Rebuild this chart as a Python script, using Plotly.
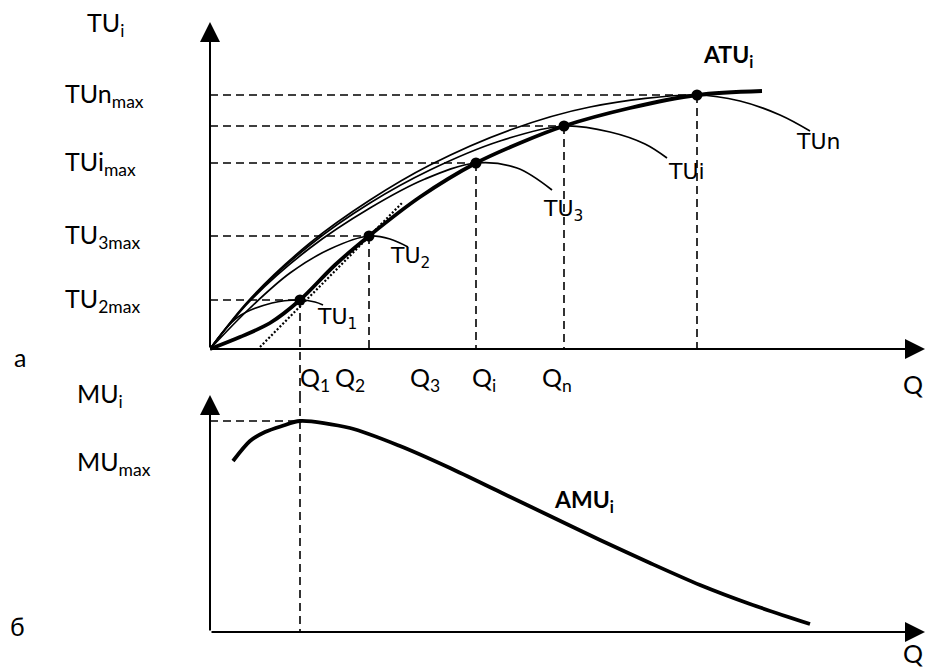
import plotly.graph_objects as go

W, H = 925, 670

# Shared scale for both panels: quantity Q and utility in the same units
Q_RANGE = [0, 71.5]
TU_RANGE = [-4.6, 32.7]   # upper panel (total utility)
MU_RANGE = [0, 23.7]      # lower panel (marginal utility)

# Maxima of the individual total-utility curves; they lie on ATU_i
q_peak = [9.0, 15.9, 26.6, 35.4, 48.7]
tu_peak = [4.9, 11.3, 18.6, 22.3, 25.4]

# Aggregate total utility ATU_i
atu_q = [0, 3.0, 6.0, 9.0, 12.5, 15.9, 21.0, 26.6, 31.0, 35.4, 42.0, 48.7, 55.2]
atu_tu = [0, 1.2, 2.6, 4.9, 8.4, 11.3, 15.2, 18.6, 20.6, 22.3, 24.1, 25.4, 25.8]

# Individual total-utility curves TU_1 ... TU_n
tu1_q = [0, 2.8, 6.2, 9.0, 10.5, 11.3]
tu1_v = [0, 3.2, 4.6, 4.9, 4.7, 4.4]
tu2_q = [0, 4.0, 8.0, 12.0, 15.9, 18.0, 19.8]
tu2_v = [0, 4.1, 7.6, 10.0, 11.3, 11.0, 10.2]
tu3_q = [0, 4.0, 10.0, 16.0, 21.5, 26.6, 30.7, 34.2]
tu3_v = [0, 4.8, 10.1, 14.1, 17.0, 18.6, 18.1, 15.9]
tui_q = [0, 4.0, 10.0, 16.0, 22.0, 29.0, 35.4, 40.0, 43.5, 45.7]
tui_v = [0, 4.9, 10.4, 14.6, 17.9, 20.8, 22.3, 21.7, 20.5, 19.1]
tun_q = [0, 4.0, 10.0, 16.0, 22.0, 30.0, 38.0, 48.7, 53.0, 57.0, 60.0]
tun_v = [0, 5.0, 10.6, 14.9, 18.4, 21.9, 24.2, 25.4, 24.8, 23.4, 21.8]

# Tangent through the first two maxima
tangent_q = [5.0, 19.3]
tangent_v = [0.2, 14.7]

# Aggregate marginal utility AMU_i
amu_q = [2.3, 4.0, 5.5, 7.2, 9.0, 14.0, 19.0, 24.0, 29.0, 34.0, 39.0, 44.0, 49.0, 54.0, 60.0]
amu_v = [17.1, 19.1, 20.0, 20.6, 21.1, 20.4, 18.6, 16.4, 14.0, 11.6, 9.2, 6.9, 4.7, 2.8, 0.8]
mu_max = 21.1

# Text labels
tu_level_labels = ["TU<sub>2max</sub>", "TU<sub>3max</sub>", "TUi<sub>max</sub>", "TUn<sub>max</sub>"]
tu_level_values = [tu_peak[0], tu_peak[1], tu_peak[2], tu_peak[4]]
q_labels = ["Q<sub>1</sub>", "Q<sub>2</sub>", "Q<sub>3</sub>", "Q<sub>i</sub>", "Q<sub>n</sub>"]
q_label_pos = [8.8, 12.3, 19.8, 26.0, 33.0]

BLACK = "black"
SANS = "Lato"
CURVE_FONT = "DejaVu Sans"
DASH = "8px,5px"


def px(x):
    return x / W


def py(y):
    return 1 - y / H


fig = go.Figure()


def top(x, y, **kw):
    fig.add_trace(go.Scatter(x=x, y=y, xaxis="x", yaxis="y", mode="lines",
                             hoverinfo="skip", **kw))


def bottom(x, y, **kw):
    fig.add_trace(go.Scatter(x=x, y=y, xaxis="x2", yaxis="y2", mode="lines",
                             hoverinfo="skip", **kw))


# dashed guides, upper panel
hx, hy = [], []
for q, v in zip(q_peak, tu_peak):
    hx += [0, q, None]
    hy += [v, v, None]
vx, vy = [], []
for q, v in zip(q_peak[1:], tu_peak[1:]):
    vx += [q, q, None]
    vy += [v, 0, None]
vx += [q_peak[0], q_peak[0]]
vy += [tu_peak[0], TU_RANGE[0]]
top(hx, hy, line=dict(color=BLACK, width=1.6, dash=DASH))
top(vx, vy, line=dict(color=BLACK, width=1.6, dash=DASH))

# dashed guides, lower panel
bottom([0, q_peak[0], None, q_peak[0], q_peak[0]],
       [mu_max, mu_max, None, MU_RANGE[1], 0],
       line=dict(color=BLACK, width=1.6, dash=DASH))

# individual TU curves
for qq, vv in [(tu1_q, tu1_v), (tu2_q, tu2_v), (tu3_q, tu3_v),
               (tui_q, tui_v), (tun_q, tun_v)]:
    top(qq, vv, line=dict(color=BLACK, width=1.7, shape="spline", smoothing=1.0))

# tangent
top(tangent_q, tangent_v, line=dict(color=BLACK, width=2.2, dash="2px,2px"))

# ATU_i
top(atu_q, atu_tu, line=dict(color=BLACK, width=3.8, shape="spline", smoothing=0.9))

# maxima dots
fig.add_trace(go.Scatter(x=q_peak, y=tu_peak, xaxis="x", yaxis="y", mode="markers",
                         marker=dict(color=BLACK, size=11), hoverinfo="skip",
                         cliponaxis=False))

# AMU_i
bottom(amu_q, amu_v, line=dict(color=BLACK, width=3.8, shape="spline", smoothing=0.8))

# axes with arrowheads
arrow = dict(text="", showarrow=True, arrowhead=2, arrowsize=2.0, arrowwidth=2,
             arrowcolor=BLACK)
fig.add_annotation(x=Q_RANGE[1], y=0, ax=0, ay=0, xref="x", yref="y",
                   axref="x", ayref="y", **arrow)
fig.add_annotation(x=0, y=TU_RANGE[1], ax=0, ay=0, xref="x", yref="y",
                   axref="x", ayref="y", **arrow)
fig.add_annotation(x=Q_RANGE[1], y=0, ax=0, ay=0, xref="x2", yref="y2",
                   axref="x2", ayref="y2", **arrow)
fig.add_annotation(x=0, y=MU_RANGE[1], ax=0, ay=0, xref="x2", yref="y2",
                   axref="x2", ayref="y2", **arrow)


def label(text, x, y, size=25, family=SANS, xref="paper", yref="paper",
          bold=False, anchor="left", vanchor="middle"):
    if bold:
        text = "<b>" + text + "</b>"
    fig.add_annotation(text=text, x=x, y=y, xref=xref, yref=yref,
                       xanchor=anchor, yanchor=vanchor, showarrow=False,
                       font=dict(family=family, size=size, color=BLACK))


# axis titles and level labels
label("TU<sub>i</sub>", px(85), py(24))
for t, v in zip(tu_level_labels, tu_level_values):
    label(t, px(63), v, yref="y")
label("a", px(12), py(357))
for t, q in zip(q_labels, q_label_pos):
    label(t, q, py(379), xref="x")
label("Q", 1.0, py(384), anchor="right")
label("MU<sub>i</sub>", px(75), py(395))
label("MU<sub>max</sub>", px(75), py(463))
label("б", px(8), py(626))
label("Q", 1.0, 0.0, anchor="right", vanchor="bottom")

# curve labels
label("TU<sub>1</sub>", px(315), py(318), size=22, family=CURVE_FONT)
label("TU<sub>2</sub>", px(388), py(257), size=22, family=CURVE_FONT)
label("TU<sub>3</sub>", px(541), py(210), size=22, family=CURVE_FONT)
label("TUi", px(666), py(171), size=22, family=CURVE_FONT)
label("TUn", px(794), py(142), size=22, family=CURVE_FONT)
label("ATU<sub>i</sub>", px(701), py(56), size=23, bold=True)
label("AMU<sub>i</sub>", px(552), py(500), size=23, bold=True)

hidden = dict(visible=False, showgrid=False, zeroline=False, fixedrange=True)
fig.update_layout(
    width=W, height=H,
    margin=dict(l=0, r=0, t=0, b=0),
    paper_bgcolor="white", plot_bgcolor="white",
    showlegend=False,
    xaxis=dict(domain=[210 / W, 1], range=Q_RANGE, anchor="y", **hidden),
    yaxis=dict(domain=[py(395), py(22)], range=TU_RANGE, anchor="x", **hidden),
    xaxis2=dict(domain=[210 / W, 1], range=Q_RANGE, anchor="y2", **hidden),
    yaxis2=dict(domain=[py(632), py(395)], range=MU_RANGE, anchor="x2", **hidden),
)

fig.write_html("out.html")
